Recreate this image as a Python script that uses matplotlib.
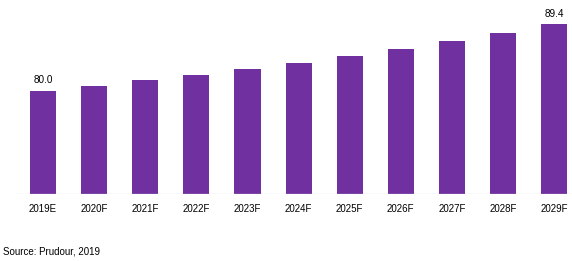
import matplotlib
matplotlib.use("Agg")
import matplotlib.pyplot as plt

years = ['2019E', '2020F', '2021F', '2022F', '2023F', '2024F',
         '2025F', '2026F', '2027F', '2028F', '2029F']
# values (only first and last are labelled)
values = [80.0, 80.7, 81.5, 82.2, 83.1, 83.9, 84.9, 85.9, 87.0, 88.1, 89.4]
labelled = {0: '80.0', 10: '89.4'}

plt.rcParams['font.family'] = ['Liberation Sans', 'DejaVu Sans']

fig = plt.figure(figsize=(5.72, 2.61), dpi=100)
ax = fig.add_axes([17/572, 66.7/261, 555/572, 194.3/261])

x = list(range(len(years)))
ax.bar(x, values, width=0.51, color='#7030A0', zorder=2)

for i, txt in labelled.items():
    ax.text(i, values[i] + 0.75, txt, ha='center', va='bottom', fontsize=7.2, color='#000000')

ax.set_xlim(-0.51, 10.35)
ax.set_ylim(65.4, 92.78)
ax.axhline(65.4, color='#D9D9D9', lw=1.0, alpha=0.7, zorder=3)

ax.set_xticks(x)
ax.set_xticklabels(years, fontsize=7)
ax.tick_params(axis='x', length=0, pad=7)
ax.set_yticks([])
for s in ax.spines.values():
    s.set_visible(False)

fig.text(3/572, 1 - 252/261, 'Source: Prudour, 2019', fontsize=7, va='center', ha='left')

fig.savefig('out.png', dpi=100)
